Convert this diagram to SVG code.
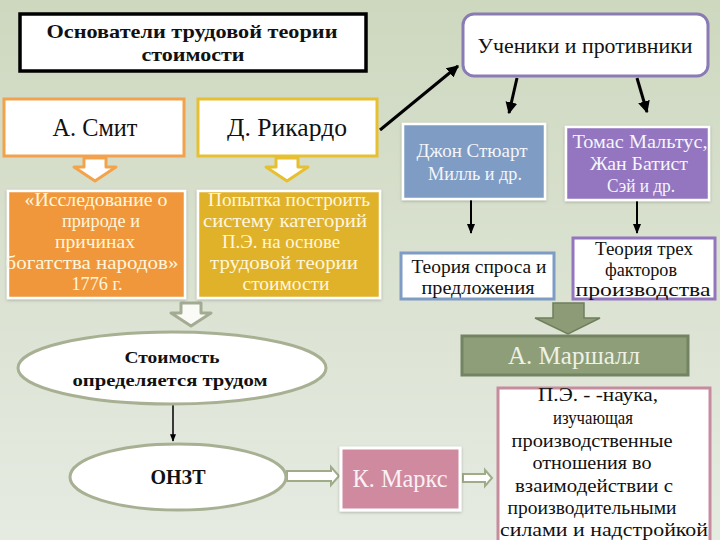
<svg xmlns="http://www.w3.org/2000/svg" width="720" height="540" viewBox="0 0 720 540" font-family="'Liberation Serif', 'Times New Roman', serif">
<defs>
<linearGradient id="bg" x1="0" y1="0" x2="0" y2="1">
<stop offset="0" stop-color="#ced8bf"/>
<stop offset="1" stop-color="#e6ebe2"/>
</linearGradient>
<marker id="ah" viewBox="0 0 10 10" refX="9" refY="5" markerWidth="4" markerHeight="4" orient="auto">
<path d="M0,0 L10,5 L0,10 z" fill="#000"/>
</marker>
<marker id="ahs" viewBox="0 0 10 10" refX="9" refY="5" markerWidth="5" markerHeight="5" orient="auto">
<path d="M0,1 L10,5 L0,9 z" fill="#000"/>
</marker>
<filter id="sh" x="-10%" y="-10%" width="120%" height="130%">
<feDropShadow dx="0" dy="1" stdDeviation="1.5" flood-color="#000" flood-opacity="0.25"/>
</filter>
</defs>
<style>
text{text-anchor:middle}
.b{font-weight:bold}
.dk{fill:#111}
.lt{fill:#fff6dc}
.wt{fill:#f4f6fa}
</style>
<rect width="720" height="540" fill="url(#bg)"/>

<g id="connectors">
<line x1="380" y1="130" x2="458" y2="66" stroke="#000" stroke-width="3" marker-end="url(#ah)"/>
<line x1="517" y1="78" x2="509" y2="113" stroke="#000" stroke-width="3" marker-end="url(#ah)"/>
<line x1="637" y1="78" x2="647" y2="112" stroke="#000" stroke-width="3" marker-end="url(#ah)"/>
<line x1="471" y1="200" x2="471" y2="233" stroke="#000" stroke-width="2" marker-end="url(#ahs)"/>
<line x1="637" y1="201" x2="637" y2="233" stroke="#000" stroke-width="2" marker-end="url(#ahs)"/>
<line x1="173" y1="405" x2="173" y2="441" stroke="#000" stroke-width="1.5" marker-end="url(#ahs)"/>
<path d="M84,158 h22 v9 h10 l-21,14 l-21,-14 h10 z" fill="#fff" stroke="#f2a34c" stroke-width="3" stroke-linejoin="round"/>
<path d="M276,158 h22 v9 h10 l-21,14 l-21,-14 h10 z" fill="#fff" stroke="#e6c030" stroke-width="3" stroke-linejoin="round"/>
<path d="M181,303 h20 v10 h10 l-20,13 l-20,-13 h10 z" fill="#fafbf6" stroke="#a3ab93" stroke-width="3" stroke-linejoin="round"/>
<path d="M553,303 h31 v15 h16 l-32,16 l-33,-16 h18 z" fill="#8d9c76" stroke="#6f7f5e" stroke-width="1.5"/>
<path d="M287,471 h44 v-4 l8,9 l-8,9 v-4 h-44 z" fill="#fff" stroke="#a0ac88" stroke-width="2"/>
<path d="M463,474 h22 v-4 l7,8 l-7,8 v-4 h-22 z" fill="#fff" stroke="#a0ac88" stroke-width="2"/>
</g>

<g id="title">
<rect x="20" y="14" width="346" height="57" fill="#fff" stroke="#000" stroke-width="3.5"/>
<text class="b dk" x="192" y="38" font-size="19" textLength="291" lengthAdjust="spacingAndGlyphs">Основатели трудовой теории</text>
<text class="b dk" x="193" y="61" font-size="19" textLength="103" lengthAdjust="spacingAndGlyphs">стоимости</text>
</g>

<g id="students">
<rect x="463" y="14" width="245" height="62" rx="11" fill="#fff" stroke="#8a7bb4" stroke-width="3"/>
<text class="dk" x="585" y="53" font-size="22" textLength="215" lengthAdjust="spacingAndGlyphs">Ученики и противники</text>
</g>

<g id="smith">
<rect x="4" y="99" width="180" height="57" fill="#fff" stroke="#f2a24c" stroke-width="3"/>
<text class="dk" x="95" y="136" font-size="25" textLength="85" lengthAdjust="spacingAndGlyphs">А. Смит</text>
</g>

<g id="ricardo">
<rect x="198" y="99" width="179" height="57" fill="#fff" stroke="#e6c030" stroke-width="3"/>
<text class="dk" x="287" y="136" font-size="25" textLength="120" lengthAdjust="spacingAndGlyphs">Д. Рикардо</text>
</g>

<g id="smith-work">
<rect x="8" y="191" width="177" height="107" fill="#f0963a" stroke="#fff" stroke-width="2.5" filter="url(#sh)"/>
<text class="lt" font-size="18" x="96" y="206" textLength="143" lengthAdjust="spacingAndGlyphs">«Исследование о</text>
<text class="lt" font-size="18" x="101" y="227" textLength="78" lengthAdjust="spacingAndGlyphs">природе и</text>
<text class="lt" font-size="18" x="95" y="248" textLength="80" lengthAdjust="spacingAndGlyphs">причинах</text>
<text class="lt" font-size="18" x="92" y="269" textLength="173" lengthAdjust="spacingAndGlyphs">богатства народов»</text>
<text class="lt" font-size="18" x="97" y="290" textLength="51" lengthAdjust="spacingAndGlyphs">1776 г.</text>
</g>

<g id="ricardo-work">
<rect x="198" y="191" width="182" height="107" fill="#e0b22c" stroke="#fff" stroke-width="2.5" filter="url(#sh)"/>
<text class="lt" font-size="18" x="289" y="206" textLength="162" lengthAdjust="spacingAndGlyphs">Попытка построить</text>
<text class="lt" font-size="18" x="285" y="227" textLength="164" lengthAdjust="spacingAndGlyphs">систему категорий</text>
<text class="lt" font-size="18" x="281" y="248" textLength="118" lengthAdjust="spacingAndGlyphs">П.Э. на основе</text>
<text class="lt" font-size="18" x="284" y="269" textLength="148" lengthAdjust="spacingAndGlyphs">трудовой теории</text>
<text class="lt" font-size="18" x="286" y="290" textLength="87" lengthAdjust="spacingAndGlyphs">стоимости</text>
</g>

<g id="mill">
<rect x="403" y="124" width="142" height="75" fill="#7f9cc4" stroke="#fff" stroke-width="2.5" filter="url(#sh)"/>
<text class="wt" font-size="19" x="472" y="157" textLength="111" lengthAdjust="spacingAndGlyphs">Джон Стюарт</text>
<text class="wt" font-size="19" x="475" y="180" textLength="94" lengthAdjust="spacingAndGlyphs">Милль и др.</text>
</g>

<g id="malthus">
<rect x="566" y="127" width="143" height="73" fill="#9375c0" stroke="#fff" stroke-width="2.5" filter="url(#sh)"/>
<text class="wt" font-size="19" x="640" y="148" textLength="135" lengthAdjust="spacingAndGlyphs">Томас Мальтус,</text>
<text class="wt" font-size="19" x="639" y="170" textLength="98" lengthAdjust="spacingAndGlyphs">Жан Батист</text>
<text class="wt" font-size="19" x="641" y="192" textLength="68" lengthAdjust="spacingAndGlyphs">Сэй и др.</text>
</g>

<g id="supply-demand">
<rect x="401" y="253" width="153" height="46" fill="#fff" stroke="#7f9cc4" stroke-width="3"/>
<text class="dk" font-size="19" x="479" y="273" textLength="135" lengthAdjust="spacingAndGlyphs">Теория спроса и</text>
<text class="dk" font-size="19" x="478" y="294" textLength="113" lengthAdjust="spacingAndGlyphs">предложения</text>
</g>

<g id="three-factors">
<rect x="573" y="238" width="142" height="61" fill="#fff" stroke="#9375c0" stroke-width="3"/>
<text class="dk" font-size="19" x="644" y="255" textLength="98" lengthAdjust="spacingAndGlyphs">Теория трех</text>
<text class="dk" font-size="19" x="641" y="276" textLength="72" lengthAdjust="spacingAndGlyphs">факторов</text>
<text class="dk" font-size="19" x="643" y="296" textLength="135" lengthAdjust="spacingAndGlyphs">производства</text>
</g>

<g id="marshall">
<rect x="462" y="336" width="226" height="39" fill="#8e9e78" stroke="#738462" stroke-width="3"/>
<text x="574" y="364" font-size="25" fill="#eef1e6" textLength="132" lengthAdjust="spacingAndGlyphs">А. Маршалл</text>
</g>

<g id="labor-value">
<ellipse cx="172" cy="368" rx="154" ry="36" fill="#fff" stroke="#a8b093" stroke-width="3"/>
<text class="b dk" x="172" y="363" font-size="17" textLength="95" lengthAdjust="spacingAndGlyphs">Стоимость</text>
<text class="b dk" x="170" y="386" font-size="17" textLength="195" lengthAdjust="spacingAndGlyphs">определяется трудом</text>
</g>

<g id="onzt">
<ellipse cx="178" cy="477" rx="108" ry="33" fill="#fff" stroke="#a8b093" stroke-width="3"/>
<text class="b dk" x="178" y="484" font-size="21" textLength="55" lengthAdjust="spacingAndGlyphs">ОНЗТ</text>
</g>

<g id="marx">
<rect x="341" y="448" width="119" height="62" fill="#cf8aa0" stroke="#fff" stroke-width="3" filter="url(#sh)"/>
<text x="400" y="487" font-size="25" fill="#fbf0f4" textLength="95" lengthAdjust="spacingAndGlyphs">К. Маркс</text>
</g>

<g id="pe-definition">
<rect x="498" y="388" width="212" height="156" fill="#fff" stroke="#c68c9e" stroke-width="3"/>
<text class="dk" font-size="18" x="598" y="401" textLength="120" lengthAdjust="spacingAndGlyphs">П.Э.  - -наука,</text>
<text class="dk" font-size="18" x="593" y="424" textLength="80" lengthAdjust="spacingAndGlyphs">изучающая</text>
<text class="dk" font-size="18" x="592" y="447" textLength="161" lengthAdjust="spacingAndGlyphs">производственные</text>
<text class="dk" font-size="18" x="592" y="469" textLength="119" lengthAdjust="spacingAndGlyphs">отношения во</text>
<text class="dk" font-size="18" x="594" y="492" textLength="158" lengthAdjust="spacingAndGlyphs">взаимодействии с</text>
<text class="dk" font-size="18" x="592" y="514" textLength="169" lengthAdjust="spacingAndGlyphs">производительными</text>
<text class="dk" font-size="18" x="604" y="536" textLength="208" lengthAdjust="spacingAndGlyphs">силами и надстройкой</text>
</g>
</svg>
